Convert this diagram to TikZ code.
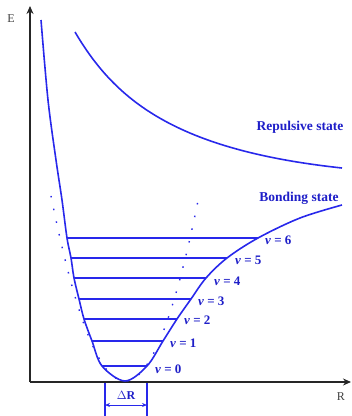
\documentclass[tikz,border=0pt]{standalone}
\usepackage{fontspec}
\setmainfont{Liberation Serif}
\usetikzlibrary{arrows.meta}
\definecolor{curveblue}{RGB}{40,40,235}
\definecolor{textblue}{RGB}{30,30,200}
\tikzset{
  curve/.style={draw=curveblue, line width=1.6pt},
  level/.style={draw=curveblue, line width=1.6pt},
  axis/.style={draw=black!85, line width=1.6pt, -{Stealth[length=8pt,width=7pt]}},
  dotline/.style={draw=curveblue, line width=1.4pt, dash pattern=on 1.5pt off 11.5pt},
  vlabel/.style={text=textblue, font=\bfseries\fontsize{13}{15}\selectfont, anchor=west, inner sep=0pt},
  statelabel/.style={text=textblue, font=\bfseries\fontsize{13.5}{15}\selectfont, inner sep=0pt},
  axlabel/.style={text=black!75, font=\fontsize{12}{14}\selectfont, inner sep=0pt}
}
\begin{document}
\begin{tikzpicture}[x=1pt,y=-1pt]
\useasboundingbox (0,0) rectangle (352,416);
% level end points
\coordinate (L0) at (102,366); \coordinate (R0) at (147,366);
\coordinate (L1) at (92,341);  \coordinate (R1) at (163,341);
\coordinate (L2) at (84,319);  \coordinate (R2) at (177,319);
\coordinate (L3) at (79,299);  \coordinate (R3) at (191,299);
\coordinate (L4) at (74,278);  \coordinate (R4) at (206,278);
\coordinate (L5) at (71,258);  \coordinate (R5) at (227,258);
\coordinate (L6) at (67,238);  \coordinate (R6) at (258,238);
\coordinate (Min) at (125,381);
% axes
\coordinate (O) at (30,382);
\coordinate (Etop) at (30,6);
\coordinate (Rend) at (351,382);
\draw[axis] (O) -- (Etop);
\draw[axis] (O) -- (Rend);
\node[axlabel] (E) at (11,19) {E};
\node[axlabel] (R) at (341,397) {R};
% dotted harmonic approximation
\draw[dotline] plot[domain=51:199, samples=60] (\x, {381-0.0338*(\x-125)*(\x-125)});
% bonding potential
\draw[curve] plot[smooth, tension=0.55] coordinates {(41,20) (48,100) (56,160) (62,200) (L6) (L5) (L4) (L3) (L2) (L1) (L0) (Min) (R0) (R1) (R2) (R3) (R4) (R5) (R6) (300,218) (342,205)};
% repulsive
\coordinate (RepA) at (75,32);
\coordinate (RepB) at (342,168);
\draw[curve] (RepA) .. controls (115,100) and (175,150) .. (RepB);
% levels
\foreach \i in {0,...,6} { \draw[level] (L\i) -- (R\i); }
% labels
\node[vlabel] (v0) at (155,369) {\textit{v} = 0};
\node[vlabel] (v1) at (170,343) {\textit{v} = 1};
\node[vlabel] (v2) at (184,320) {\textit{v} = 2};
\node[vlabel] (v3) at (198,301) {\textit{v} = 3};
\node[vlabel] (v4) at (214,281) {\textit{v} = 4};
\node[vlabel] (v5) at (235,260) {\textit{v} = 5};
\node[vlabel] (v6) at (265,240) {\textit{v} = 6};
\node[statelabel] (rep) at (300,127) {Repulsive state};
\node[statelabel] (bond) at (299,198) {Bonding state};
% Delta R
\coordinate (DA) at (105,383); \coordinate (DAb) at (105,416);
\coordinate (DB) at (147,383); \coordinate (DBb) at (147,416);
\draw[curve, line width=1.2pt] (DA) -- (DAb);
\draw[curve, line width=1.2pt] (DB) -- (DBb);
\coordinate (DAm) at (105,405); \coordinate (DBm) at (147,405);
\draw[draw=curveblue, line width=1pt, {Stealth[length=5pt,width=4pt]}-{Stealth[length=5pt,width=4pt]}] (DAm) -- (DBm);
\node[statelabel, font=\bfseries\fontsize{12}{14}\selectfont] (dR) at (126,395) {$\Delta$R};
\end{tikzpicture}
\end{document}
